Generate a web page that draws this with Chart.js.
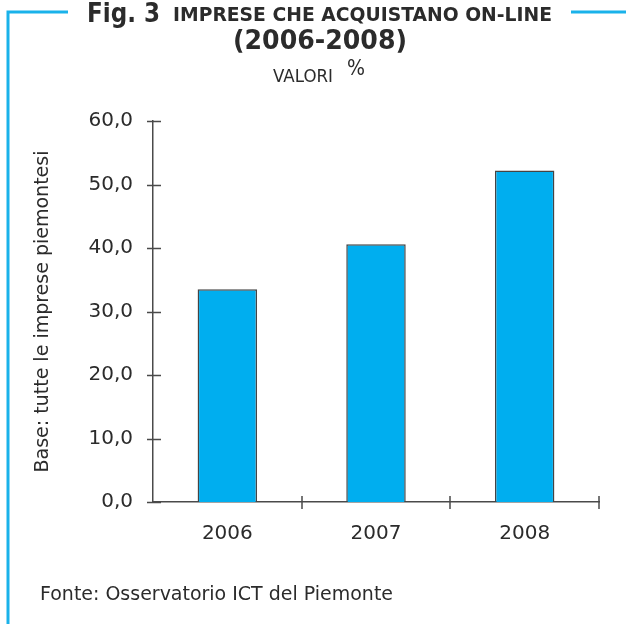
<!DOCTYPE html>
<html>
<head>
<meta charset="utf-8">
<script src="https://cdn.jsdelivr.net/npm/chart.js@4"></script>
<style>
  html, body { margin: 0; padding: 0; background: #fff; }
  #wrap { width: 626px; height: 624px; position: relative; }
</style>
</head>
<body>
<div id="wrap"><canvas id="chart" width="626" height="624"></canvas></div>
<script>
// data
const years = ["2006", "2007", "2008"];
const shares = [33.5, 40.6, 52.2];
const yTicks = [0, 10, 20, 30, 40, 50, 60];

const FONT = "'DejaVu Sans', sans-serif";
const INK = "#2b2b2b";
const AXIS = "#4a4a4a";
const CYAN = "#1ab2ea";

// draws text squeezed/stretched so it spans x0..x1
function fitText(ctx, txt, font, x0, x1, base) {
  ctx.save();
  ctx.font = font;
  ctx.textAlign = "left";
  ctx.textBaseline = "alphabetic";
  const w = ctx.measureText(txt).width;
  ctx.translate(x0, base);
  ctx.scale((x1 - x0) / w, 1);
  ctx.fillText(txt, 0, 0);
  ctx.restore();
}

// frame, title, footnote and the crossing tick marks
const decor = {
  id: "decor",
  afterDraw(chart) {
    const ctx = chart.ctx;
    const x = chart.scales.x, y = chart.scales.y;
    ctx.save();

    // blue frame
    ctx.strokeStyle = CYAN;
    ctx.lineWidth = 3;
    ctx.beginPath();
    ctx.moveTo(8, 624); ctx.lineTo(8, 12); ctx.lineTo(68, 12);
    ctx.moveTo(571, 12); ctx.lineTo(626, 12);
    ctx.stroke();

    // title
    ctx.fillStyle = INK;
    fitText(ctx, "Fig. 3", "bold 27px " + FONT, 87, 160, 22);
    fitText(ctx, "IMPRESE CHE ACQUISTANO ON-LINE", "bold 19px " + FONT, 173, 552, 21);
    fitText(ctx, "(2006-2008)", "bold 26px " + FONT, 233, 407, 49);
    fitText(ctx, "VALORI", "18px " + FONT, 273, 333, 82);
    fitText(ctx, "%", "22px " + FONT, 347, 365, 75);

    // footnote
    fitText(ctx, "Fonte: Osservatorio ICT del Piemonte", "19px " + FONT, 40, 393, 600);

    // tick marks crossing the axes
    ctx.strokeStyle = AXIS;
    ctx.lineWidth = 1.5;
    ctx.beginPath();
    yTicks.forEach(v => {
      const py = Math.round(y.getPixelForValue(v)) + 0.5;
      ctx.moveTo(x.left - 6, py); ctx.lineTo(x.left + 8, py);
    });
    const step = x.getPixelForValue(1) - x.getPixelForValue(0);
    for (let i = 0; i < years.length; i++) {
      const px = Math.round(x.getPixelForValue(i) + step / 2);
      ctx.moveTo(px, y.bottom - 6); ctx.lineTo(px, y.bottom + 7);
    }
    ctx.stroke();
    ctx.restore();
  }
};

new Chart("chart", {
  type: "bar",
  data: {
    labels: years,
    datasets: [{
      data: shares,
      backgroundColor: "#00aeef",
      borderColor: "#444",
      borderWidth: 1.5,
      barPercentage: 0.4,
      categoryPercentage: 1
    }]
  },
  options: {
    responsive: false,
    animation: false,
    layout: { padding: { left: 0, right: 27, top: 121, bottom: 0 } },
    plugins: { legend: { display: false }, tooltip: { enabled: false } },
    scales: {
      x: {
        afterFit(s) { s.height = 122; },
        grid: { display: false, drawTicks: false },
        border: { color: AXIS, width: 1.5 },
        ticks: { color: INK, padding: 20, font: { family: FONT, size: 20 } }
      },
      y: {
        min: 0, max: 60,
        afterFit(s) { s.width = 153; },
        afterBuildTicks(s) { s.ticks = yTicks.map(v => ({ value: v })); },
        grid: { display: false, drawTicks: false },
        border: { color: AXIS, width: 1.5 },
        ticks: {
          color: INK, padding: 20, font: { family: FONT, size: 20 },
          callback: v => v.toFixed(1).replace(".", ",")
        },
        title: {
          display: true, text: "Base: tutte le imprese piemontesi",
          color: INK, font: { family: FONT, size: 19 }, padding: { top: 32, bottom: 0 }
        }
      }
    }
  },
  plugins: [decor]
});
</script>
</body>
</html>
